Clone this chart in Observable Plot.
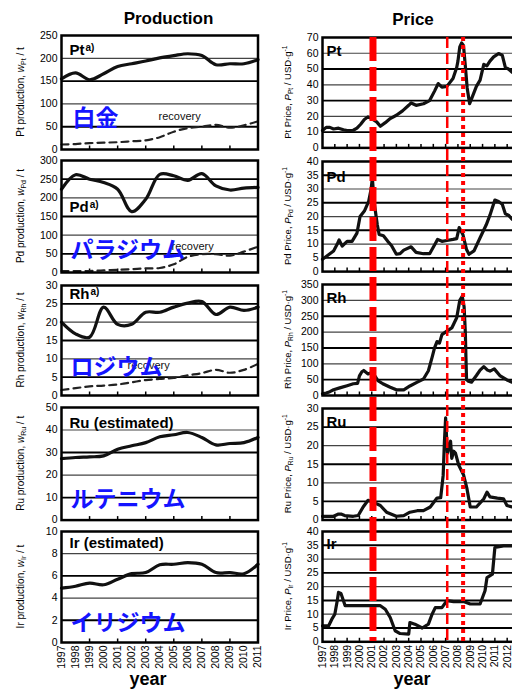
<!DOCTYPE html>
<html><head><meta charset="utf-8">
<script src="https://cdn.jsdelivr.net/npm/d3@7"></script>
<script src="https://cdn.jsdelivr.net/npm/@observablehq/plot@0.6"></script>
<style>
html,body{margin:0;padding:0;background:#fff;overflow:hidden;}
#wrap{position:relative;width:512px;height:691px;overflow:hidden;background:#fff;}
#wrap svg{position:absolute;}
</style></head><body><div id="wrap"></div>
<script>
// ---------- data ----------
const prodYears = [1997,1998,1999,2000,2001,2002,2003,2004,2005,2006,2007,2008,2009,2010,2011];
const ptProd = [155,168,153,166,182,188,194,201,206,210,206,186,188,188,197];
const ptRecovery = [11,12,14,15,16,18,20,27,39,47,50,54,48,53,62];
const pdProd = [223,262,250,241,223,163,196,263,259,247,265,232,221,226,228];
const pdRecovery = [4,4,4,6,7,9,11,12,22,42,49,49,45,56,69];
const rhProd = [20,16.8,15.9,24.1,19.4,19.4,22.7,22.7,24.1,25.2,25.6,22.1,24.1,23.2,24.1];
const rhRecovery = [1.5,2,2.5,2.7,3,3.6,4.2,4.5,4.8,5.5,6.1,7,6.2,7,8.6];
const ruProd = [27.3,27.8,28.1,28.5,31.5,33,34.4,37,37.9,38.9,36.7,33.4,34,34.4,36.7];
const irProd = [4.9,5.07,5.35,5.2,5.7,6.2,6.3,7.0,7.05,7.2,7.05,6.3,6.3,6.2,7.05];

const ptPrice = [[1997.0,11],[1997.3,13],[1997.6,13],[1997.9,12],[1998.3,12.5],[1998.7,11.5],[1999.0,11],[1999.5,11.2],[1999.8,12.5],[2000.1,15],[2000.4,18],[2000.7,19.7],[2001.0,18.6],[2001.4,16.5],[2001.7,13.7],[2002.1,16],[2002.5,18.6],[2003.0,20.7],[2003.5,23.5],[2004.0,27],[2004.2,28.5],[2004.6,27],[2005.2,28],[2005.7,30],[2006.1,36],[2006.4,40.8],[2006.7,38.5],[2007.1,39],[2007.6,44],[2007.9,51],[2008.0,55],[2008.15,64],[2008.3,66.5],[2008.45,65],[2008.6,52],[2008.75,38],[2008.95,28],[2009.2,33],[2009.5,39],[2009.8,43],[2010.1,53],[2010.35,52],[2010.6,55],[2010.9,57.7],[2011.3,59.8],[2011.6,58.8],[2011.85,51],[2012.1,50],[2012.4,48]];
const pdPrice = [[1997.0,4.5],[1997.3,5.5],[1997.6,6.5],[1997.9,7.5],[1998.2,10],[1998.35,11.5],[1998.6,9.3],[1999.0,11],[1999.4,11],[1999.8,14],[2000.05,20],[2000.4,22],[2000.75,25.5],[2000.95,30],[2001.05,34],[2001.2,25],[2001.45,17],[2001.6,13.5],[2001.95,13],[2002.3,11],[2002.6,9.5],[2003.0,6.3],[2003.3,6.5],[2003.6,7.8],[2004.2,9],[2004.6,7],[2005.2,6.5],[2005.7,6.5],[2006.2,10.5],[2006.35,11.7],[2006.7,11],[2007.1,11.3],[2007.6,11.7],[2007.9,12],[2008.1,16],[2008.4,13.5],[2008.7,8],[2008.9,6.3],[2009.3,7.5],[2009.8,12.3],[2010.3,17],[2010.6,20.5],[2011.0,26],[2011.3,25.5],[2011.6,24.5],[2011.85,21],[2012.1,20.5],[2012.4,19]];
const rhPrice = [[1997.0,5],[1997.3,8],[1997.6,12],[1997.9,18],[1998.4,24],[1999.0,31],[1999.5,37],[1999.85,38],[2000.0,62],[2000.2,75],[2000.35,79],[2000.7,68],[2001.0,73],[2001.2,65],[2001.5,47],[2001.9,37],[2002.5,26],[2003.0,18],[2003.6,18],[2004.1,30],[2004.7,42],[2005.2,52],[2005.6,78],[2005.9,120],[2006.1,150],[2006.3,170],[2006.5,165],[2006.7,192],[2007.1,203],[2007.5,213],[2007.9,245],[2008.15,300],[2008.35,313],[2008.5,280],[2008.6,200],[2008.65,120],[2008.7,50],[2008.85,45],[2009.1,42],[2009.5,63],[2009.8,80],[2010.1,91],[2010.4,80],[2010.6,77],[2010.95,84],[2011.4,63],[2011.98,49],[2012.4,42]];
const ruPrice = [[1997.0,1],[1997.9,1],[1998.3,1.6],[1998.5,1.6],[1998.8,1.2],[1999.5,1],[1999.9,1.2],[2000.3,3.5],[2000.7,5.3],[2001.1,4.8],[2001.7,3.9],[2002.2,2.1],[2003.0,1],[2003.6,1.2],[2004.1,2.1],[2004.7,2.5],[2005.2,2.5],[2005.75,3.5],[2006.3,5.9],[2006.6,6],[2006.8,12],[2006.9,21],[2007.0,27.5],[2007.08,22],[2007.15,18],[2007.3,20],[2007.4,21.2],[2007.5,16.6],[2007.65,18.5],[2007.8,18],[2008.06,14.8],[2008.46,12.1],[2008.73,8.5],[2009.0,3.5],[2009.5,3.5],[2010.1,5.7],[2010.36,7.5],[2010.6,6.2],[2011.2,5.9],[2011.7,5.7],[2011.98,3.9],[2012.4,3.5]];
const irPrice = [[1997.0,5.8],[1997.5,5.8],[1997.76,8.2],[1998.0,10],[1998.2,15],[1998.3,17.9],[1998.5,17.5],[1998.84,13.1],[1999.5,13.1],[2000.6,13.1],[2001.7,13.1],[2002.1,11.8],[2002.5,8.8],[2002.9,4],[2003.3,3],[2004.0,2.8],[2004.1,7],[2004.5,6.4],[2005.1,5],[2005.6,6.4],[2005.9,10],[2006.16,12.4],[2006.7,12.4],[2007.1,14.9],[2007.65,14.6],[2008.46,14.6],[2009.0,13.7],[2009.8,13.7],[2010.2,18.5],[2010.36,23.3],[2010.8,24.5],[2011.0,34.2],[2011.7,34.8],[2012.4,34.8]];

const ptProdTicks = [0,50,100,150,200,250];
const pdProdTicks = [0,50,100,150,200,250,300];
const rhProdTicks = [0,5,10,15,20,25,30];
const ruProdTicks = [0,10,20,30,40,50];
const irProdTicks = [0,2,4,6,8,10];
const ptPriceTicks = [0,10,20,30,40,50,60,70];
const pdPriceTicks = [0,5,10,15,20,25,30,35,40];
const rhPriceTicks = [0,50,100,150,200,250,300,350];
const ruPriceTicks = [0,5,10,15,20,25,30];
const irPriceTicks = [0,5,10,15,20,25,30,35,40];

const leftYearLabels = [1997,1998,1999,2000,2001,2002,2003,2004,2005,2006,2007,2008,2009,2010,2011];
const rightYearLabels = [1997,1998,1999,2000,2001,2002,2003,2004,2005,2006,2007,2008,2009,2010,2011,2012];
const leftTickMarks = [1999,2001,2003,2005,2007,2009];
const rightTickMarks = [1998,1999,2000,2001,2002,2003,2004,2005,2006,2007,2008,2009,2010,2011,2012];
const eventYears = [2001.1, 2007.13, 2008.42];

const metals = ["Pt","Pd","Rh","Ru","Ir"];
const jpNames = ["白金","パラジウム","ロジウム","ルテニウム","イリジウム"];

// ---------- layout ----------
const FONT = '"Liberation Sans", Arial, Helvetica, sans-serif';
const JP = '"Noto Sans CJK JP", "Noto Sans CJK SC", sans-serif';
const BLUE = "#1414ff";
const wrap = document.getElementById("wrap");

function addYLabel(svg, x, yc, size, main, v, sub, unit, sup) {
  const t = d3.select(svg).append("text")
    .attr("transform", `translate(${x},${yc}) rotate(-90)`)
    .attr("text-anchor", "middle").attr("font-size", size)
    .attr("font-family", FONT).attr("fill", "#000");
  t.append("tspan").text(main);
  t.append("tspan").attr("font-style", "italic").text(v);
  t.append("tspan").attr("font-size", size * 0.7).attr("dy", 2).text(sub);
  t.append("tspan").attr("dy", -2).text(unit);
  if (sup) t.append("tspan").attr("font-size", size * 0.7).attr("dy", -4).text(sup);
}

function panel(c) {
  const mt = 4, mb = c.labels ? 34 : 4;
  const h = c.bottom - c.top;
  const yMax = c.ticks[c.ticks.length - 1];
  const grid = c.ticks.filter(v => v > 0 && v < yMax);
  const marks = [
    Plot.ruleY(grid.filter((v, i) => i % 2 === 1), {stroke: "#444", strokeWidth: 1.2}),
    Plot.ruleY(grid.filter((v, i) => i % 2 === 0), {stroke: "#000", strokeWidth: 1.9}),
    Plot.ruleX(c.tickMarks, {x: d => d, y1: 0, y2: yMax * 3.5 / h, stroke: "#000", strokeWidth: 1.5}),
    ...c.marks,
    Plot.frame({stroke: "#000", strokeWidth: 2.5}),
    Plot.axisY({ticks: c.ticks, tickSize: 0, tickPadding: 4, fontSize: 10.5, label: null})
  ];
  if (c.labels) marks.push(Plot.axisX({ticks: c.labels, tickRotate: -90, tickSize: 0, tickPadding: 3, fontSize: 10.5, tickFormat: d => String(d), label: null}));
  const svg = Plot.plot({
    width: c.width, height: h + mt + mb,
    marginLeft: c.mLeft, marginRight: c.mRight, marginTop: mt, marginBottom: mb,
    x: c.labels ? {domain: c.xDomain} : {domain: c.xDomain, axis: null},
    y: {domain: [0, yMax]},
    style: {background: "transparent", fontFamily: FONT, color: "#000", overflow: "visible"},
    marks
  });
  svg.style.left = c.left + "px";
  svg.style.top = (c.top - mt) + "px";
  wrap.appendChild(svg);
  return {svg, yc: mt + h / 2};
}

// headers
const bg = d3.create("svg").attr("width", 512).attr("height", 691).style("left", "0px").style("top", "0px")
  .attr("font-family", FONT);
bg.append("text").attr("x", 168.5).attr("y", 24).attr("text-anchor", "middle").attr("font-weight", "bold").attr("font-size", 17).text("Production");
bg.append("text").attr("x", 413).attr("y", 25).attr("text-anchor", "middle").attr("font-weight", "bold").attr("font-size", 17).text("Price");
bg.append("text").attr("x", 148).attr("y", 685).attr("text-anchor", "middle").attr("font-weight", "bold").attr("font-size", 18).text("year");
bg.append("text").attr("x", 412).attr("y", 685).attr("text-anchor", "middle").attr("font-weight", "bold").attr("font-size", 18).text("year");
wrap.appendChild(bg.node());

// ---------- production column ----------
const prodVals = [ptProd, pdProd, rhProd, ruProd, irProd];
const prodRec = [ptRecovery, pdRecovery, rhRecovery, null, null];
const prodTicks = [ptProdTicks, pdProdTicks, rhProdTicks, ruProdTicks, irProdTicks];
const prodTop = [35, 159.7, 285, 406.7, 530.7];
const prodBot = [149, 271.7, 395, 519.3, 641.7];
const prodTitleDy = [9, 41, 3, 10, 6];
const prodTitleSub = ["a)", "a)", "a)", null, null];
const prodTitleW = [15, 19.2, 20, 0, 0];
const jpDx = [11, 9, 9, 9, 9];
const jpDy = [74.4, 81.4, 73.4, 82.7, 82.7];
const recDx = [97, 110, 66];
const recDy = [76.2, 81.2, 75.2];

metals.forEach((m, i) => {
  const rows = prodYears.map((y, j) => ({year: y, v: prodVals[i][j], r: prodRec[i] ? prodRec[i][j] : null}));
  const marks = [];
  if (prodRec[i]) {
    marks.push(Plot.line(rows, {x: "year", y: "r", stroke: "#222", strokeWidth: 2.2, strokeDasharray: "7,5", curve: "catmull-rom"}));
    marks.push(Plot.text(["recovery"], {text: d => d, frameAnchor: "top-left", lineAnchor: "top", dx: recDx[i], dy: recDy[i], fontSize: 11, fill: "#111"}));
  }
  marks.push(Plot.line(rows, {x: "year", y: "v", stroke: "#111", strokeWidth: 3.2, curve: "catmull-rom"}));
  const title = i < 3 ? m : m + " (estimated)";
  marks.push(Plot.text([title], {text: d => d, frameAnchor: "top-left", lineAnchor: "top", dx: 8, dy: prodTitleDy[i], fontSize: 15, fontWeight: "bold", fill: "#000"}));
  if (prodTitleSub[i]) marks.push(Plot.text([prodTitleSub[i]], {text: d => d, frameAnchor: "top-left", lineAnchor: "top", dx: 9 + prodTitleW[i], dy: prodTitleDy[i] - 1, fontSize: 10, fontWeight: "bold", fill: "#000"}));
  marks.push(Plot.text([jpNames[i]], {text: d => d, frameAnchor: "top-left", lineAnchor: "top", dx: jpDx[i], dy: jpDy[i], fontSize: 23, fontWeight: "bold", fill: BLUE, fontFamily: JP}));
  const p = panel({left: 0, width: 260, mLeft: 61, mRight: 2.5, top: prodTop[i], bottom: prodBot[i],
    xDomain: [1997, 2011], ticks: prodTicks[i], tickMarks: leftTickMarks, labels: i === 4 ? leftYearLabels : null, marks});
  addYLabel(p.svg, 24, p.yc, 10, `${m} production, `, "w", m, " / t", null);
});

// ---------- price column ----------
const priceVals = [ptPrice, pdPrice, rhPrice, ruPrice, irPrice];
const priceTicks = [ptPriceTicks, pdPriceTicks, rhPriceTicks, ruPriceTicks, irPriceTicks];
const priceTop = [37.3, 160.6, 284, 407.5, 530.7];
const priceBot = [147.7, 270.7, 395, 519, 641];
const priceTitleDy = [8, 9.5, 7.7, 7.5, 7.3];

metals.forEach((m, i) => {
  const rows = priceVals[i].map(([t, v]) => ({t, v}));
  const marks = [
    Plot.line(rows, {x: "t", y: "v", stroke: "#111", strokeWidth: 3.2, strokeLinejoin: "round"}),
    Plot.text([m], {text: d => d, frameAnchor: "top-left", lineAnchor: "top", dx: 4, dy: priceTitleDy[i], fontSize: 15, fontWeight: "bold", fill: "#000"})
  ];
  const p = panel({left: 256, width: 263, mLeft: 66, mRight: 0, top: priceTop[i], bottom: priceBot[i],
    xDomain: [1997, 2013], ticks: priceTicks[i], tickMarks: rightTickMarks, labels: i === 4 ? rightYearLabels : null, marks});
  addYLabel(p.svg, 35, p.yc, 9.5, `${m} Price, `, "P", m, " / USD·g", "-1");
});

// ---------- event lines ----------
const ev = Plot.plot({
  width: 263, height: 604, marginLeft: 66, marginRight: 0, marginTop: 0, marginBottom: 0,
  x: {domain: [1997, 2013], axis: null},
  style: {background: "transparent", overflow: "visible"},
  marks: [
    Plot.ruleX([eventYears[0]], {x: d => d, stroke: "#ff0000", strokeWidth: 7, strokeDasharray: "24,6"}),
    Plot.ruleX([eventYears[1]], {x: d => d, stroke: "#ff0000", strokeWidth: 2.5, strokeDasharray: "11,5"}),
    Plot.ruleX([eventYears[2]], {x: d => d, stroke: "#ff0000", strokeWidth: 4, strokeDasharray: "4,4"})
  ]
});
ev.style.left = "256px"; ev.style.top = "37px";
wrap.appendChild(ev);
</script></body></html>
